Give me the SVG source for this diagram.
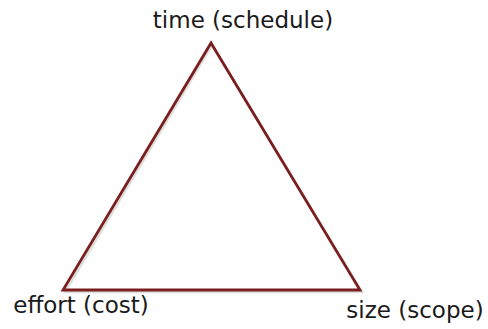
<svg xmlns="http://www.w3.org/2000/svg" width="488" height="329" viewBox="0 0 488 329">
<style>
.lbl{font-family:"DejaVu Sans",Verdana,sans-serif;font-size:23px;fill:#1a1a1a}
.tri{fill:none;stroke:#7a1f1f;stroke-width:2.8;stroke-linejoin:miter}
.sh{fill:none;stroke:#c8c8c8;stroke-width:2.5;opacity:0.6}
</style>
<rect width="488" height="329" fill="#ffffff"/>
<g id="connectors">
<polygon class="sh" points="212,45 362,292 65,292"/>
<polygon class="tri" points="211,43 360,290 63,290"/>
</g>
<g id="time"><text class="lbl" x="243" y="28" text-anchor="middle">time (schedule)</text></g>
<g id="effort"><text class="lbl" x="81" y="313" text-anchor="middle">effort (cost)</text></g>
<g id="size"><text class="lbl" x="415" y="318" text-anchor="middle">size (scope)</text></g>
</svg>
